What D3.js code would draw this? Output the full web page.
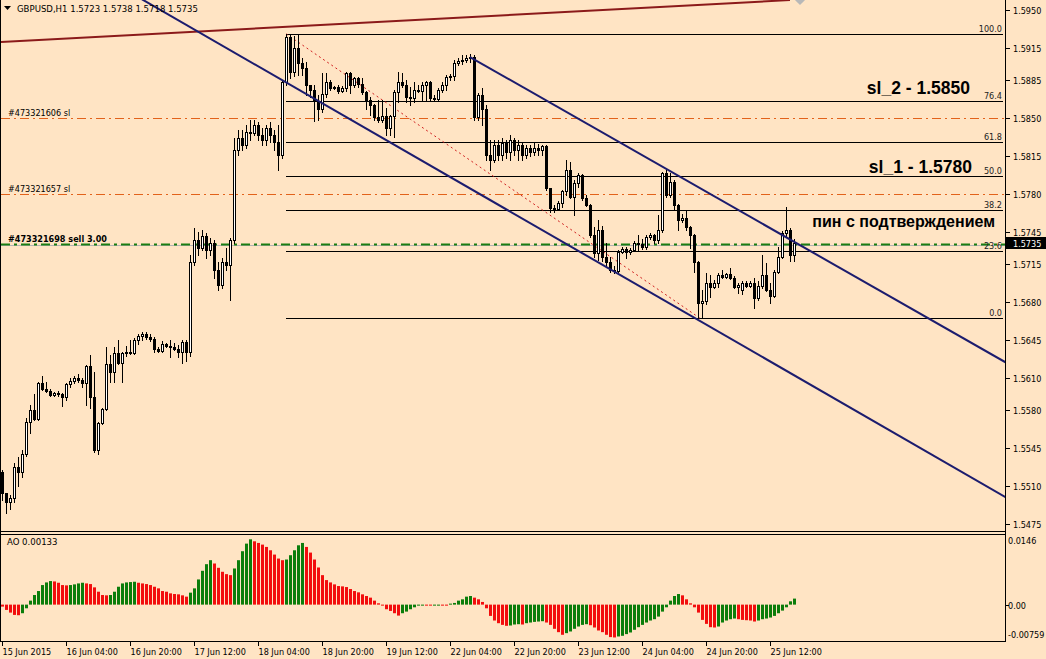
<!DOCTYPE html>
<html><head><meta charset="utf-8">
<script src="https://cdn.jsdelivr.net/npm/d3@7/dist/d3.min.js"></script>
<style>
html,body{margin:0;padding:0;background:#ffe4c4;}
svg{display:block;}
.sm{font-family:"DejaVu Sans Condensed","DejaVu Sans","Liberation Sans",sans-serif;font-size:9px;fill:#000;}
.hd{font-size:9.5px;}
.big{font-family:"Liberation Sans",Arial,sans-serif;font-size:16px;font-weight:bold;fill:#000;}
.bigsl{font-size:17.5px;}
</style></head><body>
<svg id="c" width="1046" height="659"></svg>
<script>
// ---------------- data ----------------
const symbol = "GBPUSD,H1";
const opens = [1.5523,1.5503,1.5495,1.5499,1.5527,1.5523,1.5539,1.5569,1.5580,1.5572,
1.5605,1.5600,1.5598,1.5594,1.5596,1.5595,1.5592,1.5604,1.5607,1.5610,
1.5608,1.5605,1.5621,1.5592,1.5543,1.5568,1.5581,1.5623,1.5615,1.5633,
1.5624,1.5633,1.5634,1.5633,1.5645,1.5649,1.5650,1.5648,1.5646,1.5637,
1.5635,1.5641,1.5639,1.5638,1.5637,1.5634,1.5643,1.5634,1.5717,1.5737,
1.5730,1.5741,1.5728,1.5735,1.5710,1.5696,1.5717,1.5714,1.5737,1.5821,
1.5832,1.5825,1.5837,1.5836,1.5844,1.5834,1.5830,1.5841,1.5834,1.5828,
1.5816,1.5883,1.5925,1.5893,1.5915,1.5901,1.5896,1.5881,1.5876,1.5866,
1.5858,1.5872,1.5883,1.5878,1.5879,1.5875,1.5878,1.5892,1.5881,1.5887,
1.5882,1.5874,1.5867,1.5862,1.5851,1.5848,1.5852,1.5841,1.5852,1.5874,
1.5883,1.5881,1.5870,1.5869,1.5876,1.5875,1.5881,1.5883,1.5869,1.5868,
1.5876,1.5881,1.5888,1.5889,1.5901,1.5903,1.5904,1.5906,1.5907,1.5851,
1.5871,1.5858,1.5816,1.5811,1.5825,1.5816,1.5827,1.5819,1.5830,1.5821,
1.5825,1.5816,1.5822,1.5819,1.5822,1.5821,1.5824,1.5785,1.5767,1.5766,
1.5772,1.5783,1.5802,1.5777,1.5790,1.5797,1.5776,1.5770,1.5742,1.5725,
1.5747,1.5722,1.5717,1.5710,1.5709,1.5726,1.5729,1.5726,1.5728,1.5735,
1.5734,1.5731,1.5740,1.5742,1.5737,1.5747,1.5799,1.5779,1.5791,1.5770,
1.5756,1.5758,1.5749,1.5742,1.5717,1.5679,1.5681,1.5698,1.5694,1.5698,
1.5705,1.5703,1.5706,1.5702,1.5694,1.5691,1.5698,1.5695,1.5698,1.5684,
1.5695,1.5705,1.5691,1.5686,1.5708,1.5722,1.5744,1.5747,1.5723];
const highs = [1.5525,1.5503,1.5502,1.5531,1.5537,1.5543,1.5573,1.5585,1.5595,1.5606,
1.5612,1.5606,1.5600,1.5597,1.5598,1.5596,1.5605,1.5610,1.5612,1.5613,
1.5610,1.5622,1.5631,1.5615,1.5569,1.5582,1.5638,1.5631,1.5638,1.5645,
1.5634,1.5639,1.5645,1.5647,1.5650,1.5652,1.5652,1.5650,1.5648,1.5638,
1.5644,1.5642,1.5645,1.5642,1.5640,1.5645,1.5645,1.5723,1.5748,1.5745,
1.5747,1.5744,1.5739,1.5737,1.5717,1.5721,1.5730,1.5739,1.5832,1.5839,
1.5839,1.5844,1.5848,1.5848,1.5846,1.5841,1.5844,1.5846,1.5839,1.5844,
1.5885,1.5928,1.5928,1.5926,1.5927,1.5906,1.5902,1.5881,1.5881,1.5871,
1.5892,1.5892,1.5885,1.5880,1.5881,1.5880,1.5893,1.5893,1.5888,1.5888,
1.5887,1.5875,1.5870,1.5863,1.5867,1.5867,1.5859,1.5853,1.5876,1.5893,
1.5892,1.5885,1.5879,1.5883,1.5881,1.5883,1.5884,1.5884,1.5871,1.5878,
1.5883,1.5890,1.5891,1.5904,1.5906,1.5908,1.5908,1.5909,1.5908,1.5873,
1.5878,1.5862,1.5830,1.5830,1.5830,1.5832,1.5830,1.5834,1.5832,1.5830,
1.5828,1.5825,1.5825,1.5828,1.5826,1.5825,1.5825,1.5785,1.5770,1.5773,
1.5784,1.5811,1.5809,1.5793,1.5799,1.5798,1.5779,1.5771,1.5749,1.5756,
1.5750,1.5735,1.5722,1.5713,1.5728,1.5731,1.5731,1.5730,1.5736,1.5742,
1.5738,1.5742,1.5744,1.5743,1.5760,1.5800,1.5802,1.5799,1.5793,1.5771,
1.5761,1.5765,1.5750,1.5743,1.5718,1.5691,1.5707,1.5705,1.5700,1.5707,
1.5710,1.5707,1.5711,1.5704,1.5698,1.5699,1.5699,1.5699,1.5702,1.5699,
1.5723,1.5716,1.5698,1.5710,1.5731,1.5746,1.5768,1.5748,1.5738];
const lows = [1.5497,1.5485,1.5489,1.5495,1.5510,1.5518,1.5538,1.5559,1.5571,1.5571,
1.5599,1.5597,1.5593,1.5593,1.5593,1.5584,1.5589,1.5601,1.5605,1.5606,
1.5601,1.5585,1.5582,1.5541,1.5539,1.5567,1.5580,1.5606,1.5606,1.5623,
1.5606,1.5630,1.5632,1.5632,1.5641,1.5645,1.5646,1.5644,1.5634,1.5634,
1.5634,1.5638,1.5629,1.5636,1.5629,1.5624,1.5625,1.5630,1.5714,1.5723,
1.5728,1.5721,1.5723,1.5702,1.5691,1.5693,1.5710,1.5682,1.5735,1.5816,
1.5821,1.5822,1.5830,1.5834,1.5830,1.5825,1.5825,1.5828,1.5821,1.5802,
1.5813,1.5881,1.5887,1.5889,1.5890,1.5890,1.5871,1.5870,1.5847,1.5848,
1.5856,1.5870,1.5876,1.5877,1.5873,1.5874,1.5875,1.5873,1.5879,1.5879,
1.5872,1.5858,1.5853,1.5848,1.5846,1.5846,1.5834,1.5834,1.5833,1.5865,
1.5879,1.5865,1.5862,1.5865,1.5874,1.5867,1.5867,1.5867,1.5867,1.5867,
1.5874,1.5876,1.5885,1.5885,1.5899,1.5900,1.5902,1.5902,1.5848,1.5848,
1.5844,1.5811,1.5802,1.5809,1.5811,1.5811,1.5813,1.5811,1.5816,1.5811,
1.5811,1.5813,1.5815,1.5816,1.5816,1.5816,1.5784,1.5763,1.5763,1.5765,
1.5768,1.5779,1.5776,1.5760,1.5786,1.5774,1.5769,1.5740,1.5722,1.5719,
1.5718,1.5713,1.5708,1.5707,1.5707,1.5725,1.5721,1.5724,1.5727,1.5728,
1.5729,1.5729,1.5738,1.5735,1.5735,1.5745,1.5777,1.5777,1.5765,1.5747,
1.5754,1.5747,1.5730,1.5708,1.5666,1.5665,1.5678,1.5685,1.5693,1.5694,
1.5702,1.5702,1.5701,1.5693,1.5688,1.5687,1.5694,1.5694,1.5674,1.5682,
1.5693,1.5690,1.5679,1.5685,1.5707,1.5721,1.5740,1.5718,1.5718];
const closes = [1.5503,1.5495,1.5499,1.5527,1.5523,1.5539,1.5569,1.5580,1.5572,1.5605,
1.5600,1.5598,1.5594,1.5596,1.5595,1.5592,1.5604,1.5607,1.5610,1.5608,
1.5605,1.5621,1.5592,1.5543,1.5568,1.5581,1.5623,1.5615,1.5633,1.5624,
1.5633,1.5634,1.5633,1.5645,1.5649,1.5650,1.5648,1.5646,1.5637,1.5635,
1.5641,1.5639,1.5638,1.5637,1.5634,1.5643,1.5634,1.5717,1.5737,1.5730,
1.5741,1.5728,1.5735,1.5710,1.5696,1.5717,1.5714,1.5737,1.5821,1.5832,
1.5825,1.5837,1.5836,1.5844,1.5834,1.5830,1.5841,1.5834,1.5828,1.5816,
1.5883,1.5925,1.5893,1.5915,1.5901,1.5896,1.5881,1.5876,1.5866,1.5858,
1.5872,1.5883,1.5878,1.5879,1.5875,1.5878,1.5892,1.5881,1.5887,1.5882,
1.5874,1.5867,1.5862,1.5851,1.5848,1.5852,1.5841,1.5852,1.5874,1.5883,
1.5881,1.5870,1.5869,1.5876,1.5875,1.5881,1.5883,1.5869,1.5868,1.5876,
1.5881,1.5888,1.5889,1.5901,1.5903,1.5904,1.5906,1.5907,1.5851,1.5871,
1.5858,1.5816,1.5811,1.5825,1.5816,1.5827,1.5819,1.5830,1.5821,1.5825,
1.5816,1.5822,1.5819,1.5822,1.5821,1.5824,1.5785,1.5767,1.5766,1.5772,
1.5783,1.5802,1.5777,1.5790,1.5797,1.5776,1.5770,1.5742,1.5725,1.5747,
1.5722,1.5717,1.5710,1.5709,1.5726,1.5729,1.5726,1.5728,1.5735,1.5734,
1.5731,1.5740,1.5742,1.5737,1.5747,1.5799,1.5779,1.5791,1.5770,1.5756,
1.5758,1.5749,1.5742,1.5717,1.5679,1.5681,1.5698,1.5694,1.5698,1.5705,
1.5703,1.5706,1.5702,1.5694,1.5696,1.5698,1.5695,1.5698,1.5684,1.5695,
1.5705,1.5691,1.5686,1.5708,1.5722,1.5744,1.5747,1.5723,1.5735];
const aoValues = [-0.00044,-0.00117,-0.00176,-0.00227,-0.00234,-0.00190,-0.00081,0.00088,0.00212,0.00300,
0.00432,0.00490,0.00520,0.00512,0.00483,0.00432,0.00425,0.00432,0.00447,0.00468,
0.00483,0.00468,0.00454,0.00381,0.00285,0.00212,0.00205,0.00212,0.00285,0.00395,
0.00468,0.00490,0.00498,0.00505,0.00483,0.00468,0.00454,0.00432,0.00395,0.00359,
0.00300,0.00285,0.00249,0.00234,0.00227,0.00205,0.00176,0.00264,0.00359,0.00556,
0.00747,0.00893,0.00981,0.00908,0.00813,0.00725,0.00673,0.00651,0.00798,0.00981,
0.01179,0.01347,0.01442,0.01398,0.01362,0.01325,0.01274,0.01200,0.01105,0.01017,
0.00981,0.00996,0.01091,0.01200,0.01310,0.01362,0.01274,0.01149,0.00996,0.00820,
0.00651,0.00542,0.00490,0.00447,0.00410,0.00403,0.00388,0.00344,0.00300,0.00271,
0.00227,0.00190,0.00154,0.00088,0.00029,-0.00015,-0.00102,-0.00139,-0.00190,-0.00242,
-0.00190,-0.00154,-0.00102,-0.00059,-0.00022,-0.00015,-0.00018,-0.00022,-0.00011,-0.00007,
-0.00011,-0.00015,0.00022,0.00037,0.00088,0.00117,0.00176,0.00190,0.00154,0.00117,
0.00059,-0.00081,-0.00249,-0.00351,-0.00410,-0.00447,-0.00468,-0.00461,-0.00439,-0.00432,
-0.00439,-0.00410,-0.00395,-0.00381,-0.00373,-0.00366,-0.00395,-0.00447,-0.00534,-0.00608,
-0.00666,-0.00630,-0.00593,-0.00534,-0.00483,-0.00447,-0.00432,-0.00454,-0.00505,-0.00571,
-0.00608,-0.00666,-0.00717,-0.00725,-0.00703,-0.00688,-0.00651,-0.00615,-0.00556,-0.00498,
-0.00447,-0.00395,-0.00351,-0.00322,-0.00264,-0.00154,-0.00059,0.00088,0.00190,0.00234,
0.00205,0.00117,0.00029,-0.00059,-0.00176,-0.00337,-0.00425,-0.00498,-0.00505,-0.00483,
-0.00395,-0.00351,-0.00322,-0.00307,-0.00322,-0.00337,-0.00344,-0.00351,-0.00373,-0.00351,
-0.00322,-0.00307,-0.00285,-0.00249,-0.00190,-0.00132,-0.00059,0.00073,0.00133];

const priceTicks = [1.5950,1.5915,1.5885,1.5850,1.5815,1.5780,1.5745,1.5715,1.5680,1.5645,1.5610,1.5580,1.5545,1.5510,1.5475];
const aoTicks = [0.0146,0.00,-0.00759];
const aoTickLabels = ["0.0146","0.00","-0.00759"];
const timeLabels = ["15 Jun 2015","16 Jun 04:00","16 Jun 20:00","17 Jun 12:00","18 Jun 04:00","18 Jun 20:00","19 Jun 12:00","22 Jun 04:00","22 Jun 20:00","23 Jun 12:00","24 Jun 04:00","24 Jun 20:00","25 Jun 12:00"];
const timeLabelBars = [0,16,32,48,64,80,96,112,128,144,160,176,192];

const fibLevels = [0,23.6,38.2,50.0,61.8,76.4,100.0];
const fibHigh = 1.5928, fibLow = 1.5665, fibStartBar = 71, fibEndBar = 174.5;

const orderLabels = ["#473321606 sl","#473321657 sl","#473321698 sell 3.00"];
const orderPrices = [1.5850,1.5780,1.5734];
const orderKinds = ["sl","sl","entry"];

const lowerChannel = [[71,1.58831],[174.5,1.56624]];
const upperChannel = [[117,1.59065],[250.75,1.56245]];
const redTrend = [[-0.5,1.59204],[197,1.59592]];

const noteTexts = ["sl_2 - 1.5850","sl_1 - 1.5780","пин с подтверждением"];
const noteBars = [242,242.5,248.25];
const notePrices = [1.58723,1.57993,1.57494];

// ---------------- drawing ----------------
const W = 1046, H = 659;
const plotR = 1005, mainB = 531, aoT = 534, aoB = 641;
const svg = d3.select("#c");
svg.append("rect").attr("width",W).attr("height",H).attr("fill","#ffe4c4");

const x = d3.scaleLinear().domain([0,198]).range([2,794]);
const y = d3.scaleLinear().domain([1.5475,1.5950]).range([523.7,10]);
const yAo = d3.scaleLinear().domain([-0.00759,0.0146]).range([639,538.5]);
const px = v => Math.round(x(v));

const defs = svg.append("defs");
defs.append("clipPath").attr("id","mainClip").append("rect").attr("x",1).attr("y",0).attr("width",plotR-1).attr("height",mainB);
defs.append("clipPath").attr("id","aoClip").append("rect").attr("x",1).attr("y",aoT+1).attr("width",plotR-1).attr("height",aoB-aoT-1);

const main = svg.append("g").attr("clip-path","url(#mainClip)");

// order lines
orderPrices.forEach((p,i)=>{
  const yy = Math.round(y(p))+0.5;
  if (orderKinds[i]==="entry") {
    main.append("line").attr("x1",1).attr("x2",plotR).attr("y1",yy+1).attr("y2",yy+1)
      .attr("stroke","#b4b4b4").attr("stroke-width",1);
    main.append("line").attr("x1",1).attr("x2",plotR).attr("y1",yy).attr("y2",yy)
      .attr("stroke","#1a7d12").attr("stroke-width",2.2).attr("stroke-dasharray","9,4,3,4");
  } else {
    main.append("line").attr("x1",1).attr("x2",plotR).attr("y1",yy).attr("y2",yy)
      .attr("stroke","#e2621b").attr("stroke-width",1).attr("stroke-dasharray","9,4,2,4");
  }
  const t = main.append("text").attr("class","sm").attr("x",8).attr("y",yy-3).text(orderLabels[i]);
  if (orderKinds[i]==="entry") t.style("font-weight","bold");
});

// fibonacci
const fibPrice = l => fibLow + (fibHigh-fibLow)*l/100;
fibLevels.forEach(l=>{
  const yy = Math.round(y(fibPrice(l)))+0.5;
  main.append("line").attr("x1",px(fibStartBar)).attr("x2",plotR-2).attr("y1",yy).attr("y2",yy)
    .attr("stroke","#000").attr("stroke-width",1);
  main.append("text").attr("class","sm").attr("x",plotR-3).attr("y",yy-2.5)
    .attr("text-anchor","end").style("fill","#222").text(l.toFixed(1));
});
main.append("line").attr("x1",x(fibStartBar)).attr("y1",y(fibHigh)).attr("x2",x(fibEndBar)).attr("y2",y(fibLow))
  .attr("stroke","#d02020").attr("stroke-width",1).attr("stroke-dasharray","2,3");

// candles
const idx = d3.range(opens.length);
const cg = main.append("g");
idx.forEach(i=>{
  const cx = px(i)+0.5;
  cg.append("line").attr("x1",cx).attr("x2",cx).attr("y1",Math.round(y(highs[i]))).attr("y2",Math.round(y(lows[i]))+1)
    .attr("stroke","#000").attr("stroke-width",1);
  const top = Math.round(y(Math.max(opens[i],closes[i])));
  const bot = Math.round(y(Math.min(opens[i],closes[i])));
  const bull = closes[i] >= opens[i];
  if (bot-top < 1) {
    cg.append("line").attr("x1",cx-1.5).attr("x2",cx+1.5).attr("y1",top+0.5).attr("y2",top+0.5).attr("stroke","#000");
  } else {
    cg.append("rect").attr("x",cx-1).attr("y",top+0.5).attr("width",2).attr("height",bot-top)
      .attr("fill",bull?"#ffffff":"#000").attr("stroke","#000").attr("stroke-width",1);
  }
});

// trend / channel lines
function extLine(anchors, b0, b1, color, w){
  const [[a,pa],[b,pb]] = anchors;
  const s = (pb-pa)/(b-a);
  main.append("line").attr("x1",x(b0)).attr("y1",y(pa+s*(b0-a))).attr("x2",x(b1)).attr("y2",y(pa+s*(b1-a)))
    .attr("stroke",color).attr("stroke-width",w);
}
extLine(redTrend,-0.5,197,"#8b1a1a",2);
extLine(lowerChannel,-5,260,"#1c1c6e",2);
extLine(upperChannel,117,260,"#1c1c6e",2);
// anchor diamond of the red trend
main.append("path").attr("d",d3.symbol(d3.symbolDiamond2? d3.symbolDiamond2 : d3.symbolDiamond,60)())
  .attr("transform",`translate(${x(199.5)},${y(1.5959)})`).attr("fill","#b8b8b8");

// annotations
noteTexts.forEach((t,i)=>{
  main.append("text").attr("class", i<2 ? "big bigsl" : "big").attr("x",x(noteBars[i])).attr("y",y(notePrices[i]))
    .attr("text-anchor","end").text(t);
});

// header
svg.append("path").attr("d","M4,6 L11,6 L7.5,10 Z").attr("fill","#000");
const last = opens.length-1;
svg.append("text").attr("class","sm hd").attr("x",17).attr("y",12)
  .text(`${symbol}  ${opens[last].toFixed(4)} ${highs[last].toFixed(4)} ${lows[last].toFixed(4)} ${closes[last].toFixed(4)}`);

// AO panel
const ag = svg.append("g").attr("clip-path","url(#aoClip)");
idx.forEach(i=>{
  const v = aoValues[i];
  const up = i>0 && v > aoValues[i-1];
  const y0 = yAo(0), y1 = yAo(v);
  ag.append("rect").attr("x",px(i)-1).attr("width",3)
    .attr("y",Math.min(y0,y1)).attr("height",Math.max(1,Math.abs(y1-y0)))
    .attr("fill",up?"#0b7d0b":"#f20d0d");
});
svg.append("text").attr("class","sm hd").attr("x",7).attr("y",545).text(`AO ${aoValues[last].toFixed(5)}`);

// frames
const fr = svg.append("g").attr("stroke","#000").attr("stroke-width",1).attr("fill","none");
fr.append("line").attr("x1",0.5).attr("x2",0.5).attr("y1",0).attr("y2",aoB);
fr.append("line").attr("x1",plotR+0.5).attr("x2",plotR+0.5).attr("y1",0).attr("y2",aoB+1);
fr.append("line").attr("x1",0).attr("x2",plotR+1).attr("y1",mainB+0.5).attr("y2",mainB+0.5);
fr.append("line").attr("x1",0).attr("x2",plotR+1).attr("y1",aoT+0.5).attr("y2",aoT+0.5);
fr.append("line").attr("x1",0).attr("x2",plotR+1).attr("y1",aoB+0.5).attr("y2",aoB+0.5);

// price axis
priceTicks.forEach(p=>{
  const yy = Math.round(y(p))+0.5;
  fr.append("line").attr("x1",plotR+1).attr("x2",plotR+5).attr("y1",yy).attr("y2",yy);
  svg.append("text").attr("class","sm").attr("x",plotR+8).attr("y",yy+3.5).text(p.toFixed(4));
});
// current price box
const cy = Math.round(y(closes[last]));
svg.append("rect").attr("x",plotR+1).attr("y",cy-6).attr("width",W-plotR-1).attr("height",12).attr("fill","#000");
svg.append("text").attr("class","sm").attr("x",plotR+8).attr("y",cy+3.5).style("fill","#fff").text(closes[last].toFixed(4));

// AO axis
aoTicks.forEach((v,i)=>{
  const yy = Math.round(yAo(v))+0.5;
  if (i===1) fr.append("line").attr("x1",plotR+1).attr("x2",plotR+4).attr("y1",yy).attr("y2",yy);
  const ty = i===0 ? aoT+10 : (i===2 ? aoB-3 : yy+3.5);
  svg.append("text").attr("class","sm").attr("x",plotR+3).attr("y",ty).text(aoTickLabels[i]);
});

// time axis
timeLabelBars.forEach((b,i)=>{
  const xx = px(b)+0.5;
  fr.append("line").attr("x1",xx).attr("x2",xx).attr("y1",aoB+1).attr("y2",aoB+5);
  svg.append("text").attr("class","sm").attr("x",xx).attr("y",655).text(timeLabels[i]);
});
</script>
</body></html>
